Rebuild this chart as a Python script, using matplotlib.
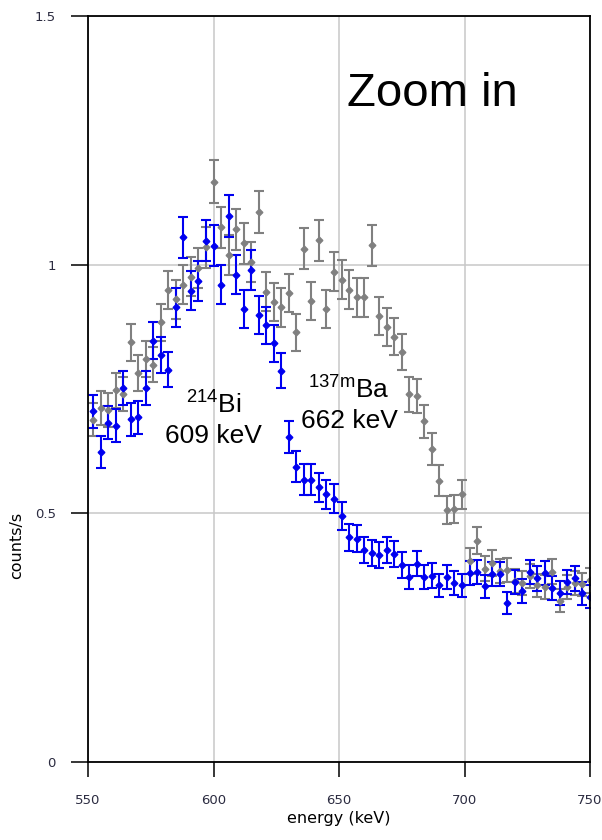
import numpy as np
import matplotlib
matplotlib.use("Agg")
import matplotlib.pyplot as plt
from matplotlib.ticker import FuncFormatter

plt.rcParams["mathtext.fontset"] = "custom"
plt.rcParams["mathtext.rm"] = "Liberation Sans"

# channel centres (keV), 3 keV wide
energy = np.arange(552, 751, 3)

# count rates (counts/s) for the two spectra
rate_blue = [0.705, 0.623, 0.682, 0.676, 0.752, 0.689, 0.693, 0.752, 0.847, 0.818,
             0.789, 0.914, 1.055, 0.948, 0.967, 1.048, 1.038, 0.960, 1.098, 0.980,
             0.911, 0.989, 0.898, 0.878, 0.842, 0.787, 0.653, 0.594, 0.568, 0.568,
             0.552, 0.538, 0.529, 0.495, 0.452, 0.449, 0.426, 0.421, 0.416, 0.426,
             0.419, 0.396, 0.372, 0.399, 0.372, 0.375, 0.355, 0.372, 0.359, 0.355,
             0.380, 0.382, 0.353, 0.378, 0.378, 0.320, 0.362, 0.344, 0.382, 0.369,
             0.380, 0.350, 0.340, 0.362, 0.369, 0.339, 0.332]
rate_gray = [0.688, 0.712, 0.708, 0.747, 0.740, 0.844, 0.782, 0.811, 0.799, 0.884,
             0.949, 0.930, 0.960, 0.976, 0.993, 1.035, 1.167, 1.075, 1.020, 1.071,
             1.043, 1.006, 1.105, 0.946, 0.925, 0.914, 0.943, 0.864, 1.032, 0.927,
             1.049, 0.910, 0.986, 0.970, 0.950, 0.934, 0.934, 1.039, 0.897, 0.875,
             0.855, 0.824, 0.739, 0.736, 0.685, 0.630, 0.566, 0.507, 0.509, 0.538,
             0.404, 0.445, 0.389, 0.400, 0.384, 0.386, 0.364, 0.360, 0.374, 0.355,
             0.352, 0.383, 0.324, 0.352, 0.360, 0.357, 0.365]

live_time = 620.0  # s, for the Poisson error on each rate

x_ticks = [550, 600, 650, 700, 750]
y_ticks = [0, 0.5, 1.0, 1.5]

fig = plt.figure(figsize=(6.02, 8.4), dpi=100)
ax = fig.add_axes([88 / 602, 78 / 840, 502 / 602, 746 / 840])

ax.set_xlim(550, 750)
ax.set_ylim(0, 1.5)
ax.set_xticks(x_ticks)
ax.set_yticks(y_ticks)
ax.yaxis.set_major_formatter(FuncFormatter(lambda v, _: f"{v:g}"))
ax.grid(True, color="#c8c8c8", linewidth=1.1)
ax.set_axisbelow(True)

for sp in ax.spines.values():
    sp.set_color("black")
    sp.set_linewidth(1.3)

ax.tick_params(axis="both", direction="out", width=1.1, color="black",
               labelsize=9.5, labelcolor="#2b2b40")
ax.tick_params(axis="x", length=11, pad=12)
ax.tick_params(axis="y", length=12.2, pad=11)

for rate, col in [(rate_gray, "#808080"), (rate_blue, "#0000f0")]:
    r = np.asarray(rate)
    err = np.sqrt(r / live_time)
    ax.errorbar(energy, r, yerr=err, fmt="D", color=col, ms=3.4, elinewidth=1.5,
                capsize=3.8, capthick=1.5, clip_on=True)

ax.set_xlabel("energy (keV)", fontsize=11.5, labelpad=3)
ax.set_ylabel("counts/s", fontsize=11.5)
ax.yaxis.set_label_coords(-0.128, 0.29)

ax.text(653.2, 1.319, "Zoom in", fontsize=34, family="Liberation Sans", ha="left",
        va="baseline")
ax.text(600, 0.700, r"$\mathregular{^{214}}$Bi", fontsize=19, family="Liberation Sans",
        ha="center", va="baseline")
ax.text(600, 0.641, "609 keV", fontsize=19, family="Liberation Sans", ha="center",
        va="baseline")
ax.text(654, 0.731, r"$\mathregular{^{137m}}$Ba", fontsize=19, family="Liberation Sans",
        ha="center", va="baseline")
ax.text(654, 0.671, "662 keV", fontsize=19, family="Liberation Sans", ha="center",
        va="baseline")

fig.savefig("out.png", dpi=100)
